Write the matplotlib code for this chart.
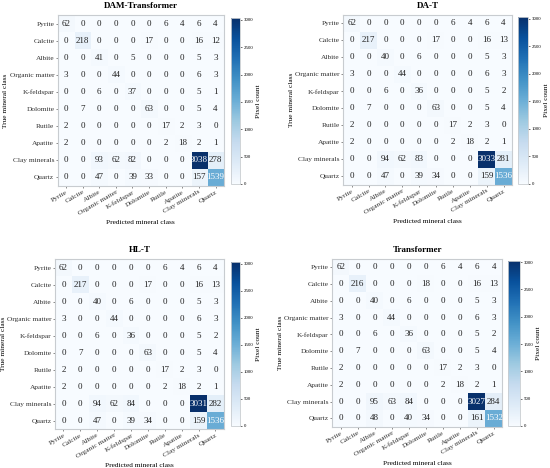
import numpy as np
import matplotlib
matplotlib.use("Agg")
import matplotlib.pyplot as plt

plt.rcParams['font.family'] = ['Liberation Serif', 'DejaVu Serif']

classes = ["Pyrite", "Calcite", "Albite", "Organic matter", "K-feldspar",
           "Dolomite", "Rutile", "Apatite", "Clay minerals", "Quartz"]

cm_dam = [
    [62, 0, 0, 0, 0, 0, 6, 4, 6, 4],
    [0, 218, 0, 0, 0, 17, 0, 0, 16, 12],
    [0, 0, 41, 0, 5, 0, 0, 0, 5, 3],
    [3, 0, 0, 44, 0, 0, 0, 0, 6, 3],
    [0, 0, 6, 0, 37, 0, 0, 0, 5, 1],
    [0, 7, 0, 0, 0, 63, 0, 0, 5, 4],
    [2, 0, 0, 0, 0, 0, 17, 2, 3, 0],
    [2, 0, 0, 0, 0, 0, 2, 18, 2, 1],
    [0, 0, 93, 62, 82, 0, 0, 0, 3038, 278],
    [0, 0, 47, 0, 39, 33, 0, 0, 157, 1539],
]
cm_dat = [
    [62, 0, 0, 0, 0, 0, 6, 4, 6, 4],
    [0, 217, 0, 0, 0, 17, 0, 0, 16, 13],
    [0, 0, 40, 0, 6, 0, 0, 0, 5, 3],
    [3, 0, 0, 44, 0, 0, 0, 0, 6, 3],
    [0, 0, 6, 0, 36, 0, 0, 0, 5, 2],
    [0, 7, 0, 0, 0, 63, 0, 0, 5, 4],
    [2, 0, 0, 0, 0, 0, 17, 2, 3, 0],
    [2, 0, 0, 0, 0, 0, 2, 18, 2, 1],
    [0, 0, 94, 62, 83, 0, 0, 0, 3033, 281],
    [0, 0, 47, 0, 39, 34, 0, 0, 159, 1536],
]
cm_hlt = [
    [62, 0, 0, 0, 0, 0, 6, 4, 6, 4],
    [0, 217, 0, 0, 0, 17, 0, 0, 16, 13],
    [0, 0, 40, 0, 6, 0, 0, 0, 5, 3],
    [3, 0, 0, 44, 0, 0, 0, 0, 6, 3],
    [0, 0, 6, 0, 36, 0, 0, 0, 5, 2],
    [0, 7, 0, 0, 0, 63, 0, 0, 5, 4],
    [2, 0, 0, 0, 0, 0, 17, 2, 3, 0],
    [2, 0, 0, 0, 0, 0, 2, 18, 2, 1],
    [0, 0, 94, 62, 84, 0, 0, 0, 3031, 282],
    [0, 0, 47, 0, 39, 34, 0, 0, 159, 1536],
]
cm_tr = [
    [62, 0, 0, 0, 0, 0, 6, 4, 6, 4],
    [0, 216, 0, 0, 0, 18, 0, 0, 16, 13],
    [0, 0, 40, 0, 6, 0, 0, 0, 5, 3],
    [3, 0, 0, 44, 0, 0, 0, 0, 6, 3],
    [0, 0, 6, 0, 36, 0, 0, 0, 5, 2],
    [0, 7, 0, 0, 0, 63, 0, 0, 5, 4],
    [2, 0, 0, 0, 0, 0, 17, 2, 3, 0],
    [2, 0, 0, 0, 0, 0, 2, 18, 2, 1],
    [0, 0, 95, 63, 84, 0, 0, 0, 3027, 284],
    [0, 0, 48, 0, 40, 34, 0, 0, 161, 1532],
]
titles = ["DAM-Transformer", "DA-T", "HL-T", "Transformer"]
matrices = [cm_dam, cm_dat, cm_hlt, cm_tr]

# axes placement [left, bottom, width, height] for heatmap and colorbar
ax_pos = [
    ([0.105, 0.603, 0.302, 0.365], [0.420, 0.607, 0.017, 0.355]),
    ([0.624, 0.605, 0.307, 0.363], [0.942, 0.607, 0.018, 0.357]),
    ([0.100, 0.083, 0.307, 0.363], [0.420, 0.090, 0.017, 0.350]),
    ([0.604, 0.088, 0.309, 0.359], [0.924, 0.090, 0.022, 0.353]),
]

fig = plt.figure(figsize=(5.5, 4.68), dpi=100)
edge = '#c8ccd0'
for title, mat, (hp, cp) in zip(titles, matrices, ax_pos):
    m = np.array(mat)
    ax = fig.add_axes(hp)
    cax = fig.add_axes(cp)
    vmax = m.max()
    im = ax.imshow(m, cmap='Blues', vmin=0, vmax=vmax, aspect='auto',
                   interpolation='nearest')
    n = len(classes)
    for i in range(n):
        for j in range(n):
            v = m[i, j]
            ax.text(j, i, str(v), ha='center', va='center', fontsize=6.5,
                    color='white' if v > vmax / 2 else '#222222')
    ax.set_xticks(range(n))
    ax.set_yticks(range(n))
    ax.set_xticklabels(classes, rotation=30, ha='right', rotation_mode='anchor',
                       fontsize=5.3)
    ax.set_yticklabels(classes, fontsize=5.3)
    ax.tick_params(length=1.5, width=0.4, pad=1, colors='#333333')
    for s in ax.spines.values():
        s.set_color(edge)
        s.set_linewidth(0.8)
    ax.set_title(title, fontsize=6.5, fontweight='bold', pad=5)
    ax.set_xlabel("Predicted mineral class", fontsize=5.3, labelpad=3)
    ax.set_ylabel("True mineral class", fontsize=5.3, labelpad=1)
    cb = fig.colorbar(im, cax=cax, ticks=[0, 500, 1000, 1500, 2000, 2500, 3000])
    cb.ax.tick_params(labelsize=3.5, length=1.5, width=0.4, pad=1)
    cb.outline.set_edgecolor(edge)
    cb.outline.set_linewidth(0.6)
    cb.set_label("Pixel count", fontsize=5.3, labelpad=2)

fig.savefig("out.png", dpi=100)
